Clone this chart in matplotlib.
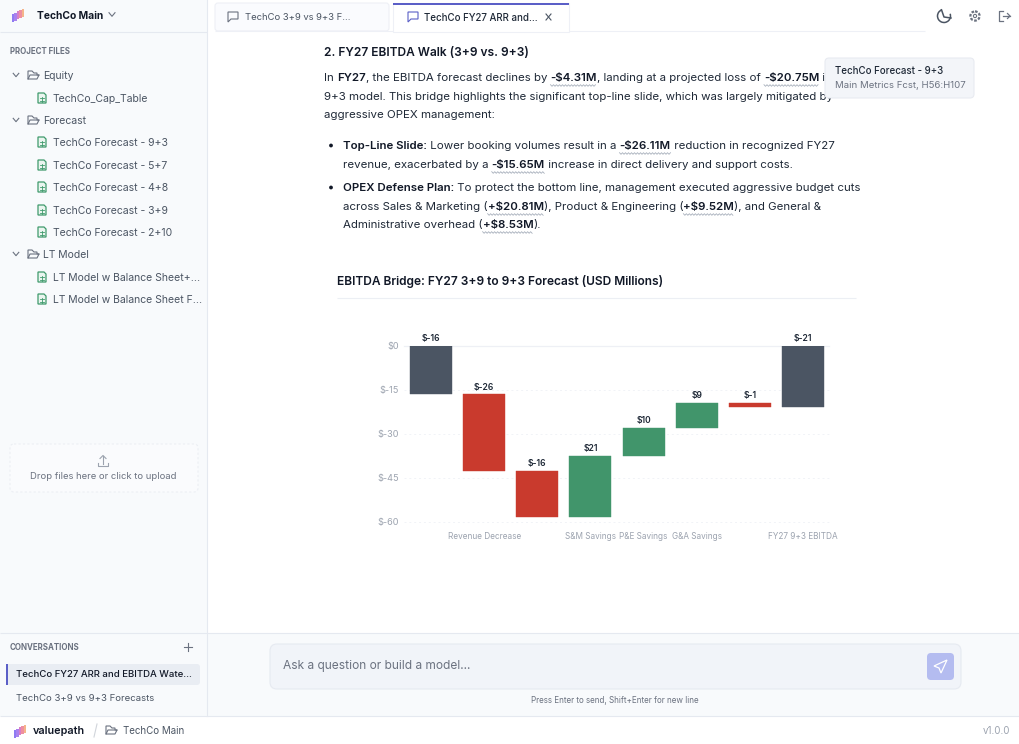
import numpy as np
import matplotlib
matplotlib.use("Agg")
import matplotlib.pyplot as plt
from matplotlib.patches import Rectangle, FancyBboxPatch, Polygon, Circle, Arc

plt.rcParams['font.family'] = ['Inter', 'DejaVu Sans']

# chart data, USD millions
categories = ["", "Revenue Decrease", "", "S&M Savings", "P&E Savings", "G&A Savings", "", "FY27 9+3 EBITDA"]
step_values = [-16.44, -26.11, -15.65, 20.81, 9.52, 8.53, -1.41, -20.75]
bar_kinds = ["total", "step", "step", "step", "step", "step", "step", "total"]
y_ticks = [0, -15, -30, -45, -60]

# file tree in the sidebar
folders = ["Equity", "Forecast", "LT Model"]
folder_rows = [75, 120, 254]
files = ["TechCo_Cap_Table", "TechCo Forecast - 9+3", "TechCo Forecast - 5+7", "TechCo Forecast - 4+8",
         "TechCo Forecast - 3+9", "TechCo Forecast - 2+10", "LT Model w Balance Sheet+...", "LT Model w Balance Sheet F..."]
file_rows = [98, 142, 165, 187, 210, 232, 277, 299]

# text of the answer, each run is (text, bold, wavy underline)
body_lines = [
    (324, 77, [("In ", 0, 0), ("FY27", 1, 0), (", the EBITDA forecast declines by ", 0, 0), ("-$4.31M", 1, 1),
               (", landing at a projected loss of ", 0, 0), ("-$20.75M", 1, 1), (" i", 0, 0)]),
    (324, 96, [("9+3 model. This bridge highlights the significant top-line slide, which was largely mitigated by", 0, 0)]),
    (324, 114, [("aggressive OPEX management:", 0, 0)]),
    (343, 145, [("Top-Line Slide:", 1, 0), (" Lower booking volumes result in a ", 0, 0), ("-$26.11M", 1, 1),
                (" reduction in recognized FY27", 0, 0)]),
    (343, 164, [("revenue, exacerbated by a ", 0, 0), ("-$15.65M", 1, 1), (" increase in direct delivery and support costs.", 0, 0)]),
    (343, 187, [("OPEX Defense Plan:", 1, 0), (" To protect the bottom line, management executed aggressive budget cuts", 0, 0)]),
    (343, 206, [("across Sales & Marketing (", 0, 0), ("+$20.81M", 1, 1), ("), Product & Engineering (", 0, 0),
                ("+$9.52M", 1, 1), ("), and General &", 0, 0)]),
    (343, 224, [("Administrative overhead (", 0, 0), ("+$8.53M", 1, 1), (").", 0, 0)]),
]

W, H = 1020, 744
fig = plt.figure(figsize=(W / 100, H / 100), dpi=100, facecolor='white')

# whole page drawn in pixel coordinates
ui = fig.add_axes([0, 0, 1, 1])
ui.set_xlim(0, W)
ui.set_ylim(H, 0)
ui.axis('off')

DARK = '#111827'
BODY = '#1f2937'
MUTED = '#4b5563'
LIGHT = '#6b7280'
FAINT = '#9ca3af'
LINE = '#e5e9f0'
PANEL = '#f8fafc'


def txt(x, y, s, size=7.5, color=MUTED, weight='normal', ha='left', z=5):
    return ui.text(x, y + 0.7, s, fontsize=size, color=color, fontweight=weight, ha=ha, va='center', zorder=z)


def box(x0, y0, x1, y1, fc, ec='none', r=0, lw=0.8, z=1, ls='-'):
    if r:
        p = FancyBboxPatch((x0 + r, y0 + r), x1 - x0 - 2 * r, y1 - y0 - 2 * r, boxstyle=f"round,pad={r}",
                           fc=fc, ec=ec, lw=lw, zorder=z, ls=ls)
    else:
        p = Rectangle((x0, y0), x1 - x0, y1 - y0, fc=fc, ec=ec, lw=lw, zorder=z, ls=ls)
    ui.add_patch(p)


def hline(y, x0, x1, color=LINE, lw=0.8, z=2):
    ui.plot([x0, x1], [y, y], color=color, lw=lw, zorder=z, solid_capstyle='butt')


def chevron(x, y, color='#6b7280', s=3):
    ui.plot([x - s, x, x + s], [y - s * 0.6, y + s * 0.6, y - s * 0.6], color=color, lw=0.8, zorder=5)


def folder_icon(x, y, color='#6b7280'):
    pts = [(x - 5, y + 4), (x - 5, y - 4), (x - 1, y - 4), (x + 1, y - 2), (x + 4, y - 2), (x + 4, y), (x + 6, y), (x + 4, y + 4)]
    ui.add_patch(Polygon(pts, closed=True, fc='none', ec=color, lw=0.8, zorder=5))
    ui.plot([x - 5, x - 3, x + 6], [y + 4, y, y], color=color, lw=0.8, zorder=5)


def file_icon(x, y, color='#3f9a6c'):
    ui.add_patch(Polygon([(x - 4, y - 5), (x + 2, y - 5), (x + 4, y - 3), (x + 4, y + 5), (x - 4, y + 5)], closed=True,
                         fc='#eaf5ef', ec=color, lw=0.9, zorder=5))
    for dy in (0, 2.5):
        ui.plot([x - 2, x + 2], [y + dy, y + dy], color=color, lw=0.6, zorder=6)
    ui.plot([x, x], [y - 1, y + 3.5], color=color, lw=0.6, zorder=6)


def chat_icon(x, y, color):
    ui.add_patch(Polygon([(x - 5, y - 5), (x + 5, y - 5), (x + 5, y + 2), (x - 2, y + 2), (x - 5, y + 5)], closed=True,
                         fc='none', ec=color, lw=0.8, zorder=5))


def logo(x, y):
    cols = ['#8f7cf2', '#a982ee', '#d67fc8', '#ee8fa0', '#f5b48a']
    for i, c in enumerate(cols):
        top = y - 1 - i * 1.3
        ui.add_patch(Rectangle((x + i * 2.5, top), 2.1, 8, fc=c, ec='none', zorder=5))


def draw_runs(x, y, runs, size=8.28):
    rend = fig.canvas.get_renderer()
    for s, bold, wavy in runs:
        t = txt(x, y, s, size=size, color=DARK if bold else BODY, weight='semibold' if bold else 'normal', z=3)
        # measure with a closing dot so that spaces at the end count
        t.set_text(s + '.')
        w1 = t.get_window_extent(rend).width
        t.set_text('.')
        w0 = t.get_window_extent(rend).width
        t.set_text(s)
        w = w1 - w0
        if wavy:
            xs = np.arange(x, x + w, 1.5)
            ys = y + 8.5 + 0.8 * np.where(np.arange(len(xs)) % 2, 1, -1)
            ui.plot(xs, ys, color='#a8b0bc', lw=0.6, zorder=3)
        x += w


# page regions
box(0, 0, 207, 716, PANEL)
box(207, 633, W, 716, PANEL)
hline(32, 0, 207)
hline(633, 0, W)
hline(716, 0, W)
ui.plot([207, 207], [0, 716], color=LINE, lw=0.8, zorder=2)

# sidebar header and tree
logo(12, 15)
txt(37, 15, "TechCo Main", size=7.4, color=DARK, weight='bold')
chevron(112, 14.5, s=3)
txt(10, 51, "PROJECT FILES", size=5.7, color=LIGHT, weight='bold')
for name, y in zip(folders, folder_rows):
    chevron(16, y, s=2.8)
    folder_icon(33, y)
    txt(43, y, name, size=7.5)
for name, y in zip(files, file_rows):
    file_icon(42, y)
    txt(53, y, name, size=7.5)

# upload box
box(10, 444, 198, 492, '#fafbfd', ec='#eceff4', r=4, ls=(0, (2, 2)))
ui.plot([103, 103], [456, 464], color=FAINT, lw=0.8, zorder=5)
ui.plot([100, 103, 106], [458.5, 455.5, 458.5], color=FAINT, lw=0.8, zorder=5)
ui.plot([98, 98, 108, 108], [463, 466, 466, 463], color=FAINT, lw=0.8, zorder=5)
txt(103, 476, "Drop files here or click to upload", size=6.8, color=LIGHT, ha='center')

# conversations
txt(10, 647, "CONVERSATIONS", size=5.7, color=LIGHT, weight='bold')
ui.plot([188, 188], [643, 651], color=LIGHT, lw=0.8, zorder=5)
ui.plot([184, 192], [647, 647], color=LIGHT, lw=0.8, zorder=5)
box(6, 664, 200, 685, '#e9edf3', r=3)
box(6, 664, 8, 685, '#5b5fc7', z=3)
txt(16, 674, "TechCo FY27 ARR and EBITDA Wate...", size=6.9, color=DARK, weight='medium')
txt(16, 698, "TechCo 3+9 vs 9+3 Forecasts", size=6.9)

# bottom bar
logo(14, 731)
txt(33, 730, "valuepath", size=7.8, color=DARK, weight='semibold')
ui.plot([94, 97], [737, 724], color='#d1d5db', lw=0.8, zorder=5)
folder_icon(111, 730, color=LIGHT)
txt(123, 730, "TechCo Main", size=7.0)
txt(1010, 730, "v1.0.0", size=7.0, color=FAINT, ha='right')

# tabs
hline(31, 215, 925, color='#eef0f6')
box(215, 3, 389, 31, '#fafbfe', ec='#eef0f6', r=3)
box(393, 3, 569, 32, 'white', ec='#eef0f6', z=3)
box(393, 3, 569, 5, '#5b5fc7', z=4)
chat_icon(233, 17, LIGHT)
chat_icon(413, 17, '#5b5fc7')
txt(245, 17, "TechCo 3+9 vs 9+3 F...", size=6.8)
txt(424, 17, "TechCo FY27 ARR and...", size=7.0, color=BODY, weight='medium')
ui.plot([546, 551], [14, 20], color=MUTED, lw=0.8, zorder=5)
ui.plot([551, 546], [14, 20], color=MUTED, lw=0.8, zorder=5)

# top right icons
ui.add_patch(Arc((944, 16), 13, 13, theta1=-20, theta2=250, color=MUTED, lw=1.1, zorder=5))
ui.plot([941.5, 944, 951], [9.8, 17, 18], color=MUTED, lw=1.1, zorder=5)
ui.add_patch(Circle((975, 16), 4.6, fc='none', ec=LIGHT, lw=1.6, ls=(0, (1.2, 0.7)), zorder=5))
ui.add_patch(Circle((975, 16), 1.6, fc='none', ec=LIGHT, lw=0.8, zorder=5))
ui.plot([1003, 999, 999, 1003], [11, 11, 21, 21], color=LIGHT, lw=0.9, zorder=5)
ui.plot([1003, 1010], [16, 16], color=LIGHT, lw=0.9, zorder=5)
ui.plot([1007.5, 1010, 1007.5], [13.5, 16, 18.5], color=LIGHT, lw=0.9, zorder=5)

# answer text
txt(324, 52, "2. FY27 EBITDA Walk (3+9 vs. 9+3)", size=8.6, color=DARK, weight='semibold')
for x, y, runs in body_lines:
    draw_runs(x, y, runs)
for y in (145, 187):
    ui.add_patch(Circle((331, y + 0.5), 1.9, fc=DARK, ec='none', zorder=5))

# tooltip sits over the text
box(825, 58, 974, 98, '#f3f5f9', ec='#e8ebf1', r=4, z=6)
txt(835, 70.5, "TechCo Forecast - 9+3", size=7.0, color=BODY, weight='medium', z=7)
txt(835, 85, "Main Metrics Fcst, H56:H107", size=6.9, color=LIGHT, z=7)

# chart heading
txt(337, 281, "EBITDA Bridge: FY27 3+9 to 9+3 Forecast (USD Millions)", size=8.6, color=DARK, weight='semibold')
hline(297.5, 337, 856, color='#eceff4')

# input area
box(270, 644, 961, 689, '#f1f4f9', ec='#e6eaf1', r=7)
txt(283, 665, "Ask a question or build a model...", size=8.6, color=LIGHT)
box(927, 653, 954, 680, '#b4bcf0', r=4, z=3)
ui.add_patch(Polygon([(947, 660), (934, 666), (939, 668), (941, 673)], closed=True, fc='none', ec='white', lw=0.9, zorder=5))
txt(615, 700, "Press Enter to send, Shift+Enter for new line", size=5.8, color=LIGHT, ha='center')

# waterfall
ax = fig.add_axes([404.5 / W, 1 - 522 / H, 425 / W, 176 / H])
ax.patch.set_alpha(0)
running = 0
tops = []
bottoms = []
for v, kind in zip(step_values, bar_kinds):
    if kind == "total":
        tops.append(0)
        bottoms.append(v)
        running = v
    else:
        tops.append(max(running, running + v))
        bottoms.append(min(running, running + v))
        running += v

colors = []
for v, kind in zip(step_values, bar_kinds):
    if kind == "total":
        colors.append('#4b5563')
    else:
        colors.append('#c93a2d' if v < 0 else '#41956b')

pos = np.arange(len(step_values))
heights = [t - b for t, b in zip(tops, bottoms)]
ax.bar(pos, heights, bottom=bottoms, width=0.79, color=colors, edgecolor=colors, linewidth=0.3, zorder=3)
for p, t, v in zip(pos, tops, step_values):
    ax.annotate(f"${v:.0f}", (p, t), xytext=(0, 1.8), textcoords='offset points', ha='center', va='bottom',
                fontsize=6.2, color='#1f2937', fontweight='semibold', annotation_clip=False)

ax.set_xlim(-0.5, 7.5)
ax.set_ylim(-60, 0)
ax.set_yticks(y_ticks)
ax.set_yticklabels([f"${t}" for t in y_ticks])
ax.set_xticks(pos)
ax.set_xticklabels(categories)
ax.tick_params(axis='x', length=0, labelsize=5.9, labelcolor=FAINT, pad=7)
ax.tick_params(axis='y', length=0, labelsize=6.6, labelcolor=FAINT, pad=4)
for s in ax.spines.values():
    s.set_visible(False)
ax.grid(axis='y', color='#f1f3f7', lw=0.7, ls=(0, (2, 3)), zorder=0, clip_on=False)
ax.axhline(0, color='#eef0f5', lw=0.9, zorder=1, clip_on=False)
ax.set_axisbelow(True)

fig.savefig('out.png', dpi=100)
